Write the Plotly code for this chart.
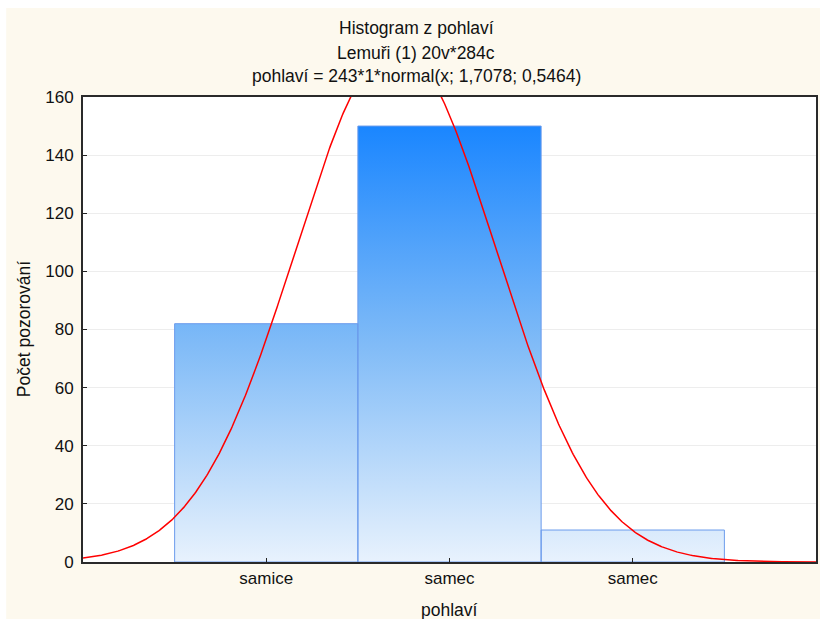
import numpy as np
import plotly.graph_objects as go

# data
categories = ["samice", "samec", "samec"]
class_pos = [1, 2, 3]
counts = [82, 150, 11]
n_total = 243
fit_mean = 1.7078
fit_sd = 0.5464
y_ticks = [0, 20, 40, 60, 80, 100, 120, 140, 160]

FONT = "Liberation Sans, Arial, sans-serif"
W, H = 820, 619
ML, MR, MT, MB = 83, 2, 97, 57
PH = H - MT - MB
PW = W - ML - MR


def py(pix):
    # pixel row -> paper y
    return (H - MB - pix) / PH


def px(pix):
    return (pix - ML) / PW


fig = go.Figure()

# bars as filled rectangles so they can carry a vertical gradient
bx, by = [], []
for p, c in zip(class_pos, counts):
    bx += [p - 0.5, p - 0.5, p + 0.5, p + 0.5, p - 0.5, None]
    by += [0, c, c, 0, 0, None]

fig.add_trace(go.Scatter(
    x=bx, y=by, mode="lines", fill="toself",
    line=dict(color="#6b9bec", width=1),
    fillgradient=dict(
        type="vertical", start=0, stop=max(counts),
        colorscale=[[0, "#e8f2fd"], [0.5, "#80bbf7"], [1, "#1a86ff"]],
    ),
    hoverinfo="skip", showlegend=False,
))

# fitted normal curve
xs = np.linspace(0, 4, 801)
ys = n_total * 1 * np.exp(-(xs - fit_mean) ** 2 / (2 * fit_sd ** 2)) / (fit_sd * np.sqrt(2 * np.pi))
fig.add_trace(go.Scatter(
    x=xs, y=ys, mode="lines", line=dict(color="#ff0000", width=1.5),
    hoverinfo="skip", showlegend=False,
))

# cream page background behind the plot box
fig.add_shape(type="rect", xref="paper", yref="paper",
              x0=px(6), x1=px(W + 10), y0=py(H + 10), y1=py(8),
              fillcolor="#fdf9ee", line_width=0, layer="below")
fig.add_shape(type="rect", xref="paper", yref="paper",
              x0=0, x1=1, y0=0, y1=1,
              fillcolor="white", line_width=0, layer="below")

titles = ["Histogram z pohlaví", "Lemuři (1) 20v*284c",
          "pohlaví = 243*1*normal(x; 1,7078; 0,5464)"]
for t, yy in zip(titles, [28, 53, 76]):
    fig.add_annotation(text=t, xref="paper", yref="paper", x=px(417), y=py(yy),
                       xanchor="center", yanchor="middle", showarrow=False,
                       font=dict(family=FONT, size=17.5, color="#111111"))

fig.add_annotation(text="pohlaví", xref="paper", yref="paper", x=0.5, y=py(610),
                   xanchor="center", yanchor="middle", showarrow=False,
                   font=dict(family=FONT, size=17.5, color="#111111"))
fig.add_annotation(text="Počet pozorování", xref="paper", yref="paper",
                   x=px(24), y=py(329), textangle=-90,
                   xanchor="center", yanchor="middle", showarrow=False,
                   font=dict(family=FONT, size=17.5, color="#111111"))

fig.update_layout(
    width=W, height=H,
    margin=dict(l=ML, r=MR, t=MT, b=MB),
    paper_bgcolor="white", plot_bgcolor="rgba(0,0,0,0)",
    font=dict(family=FONT, size=17, color="#111111"),
    xaxis=dict(
        range=[0, 4], tickvals=class_pos, ticktext=categories,
        ticks="inside", ticklen=4, tickcolor="#222222",
        showline=True, linecolor="#2a2a2a", linewidth=2, mirror=True,
        showgrid=False, zeroline=False,
    ),
    yaxis=dict(
        range=[0, 160], tickvals=y_ticks,
        ticks="inside", ticklen=4, tickcolor="#222222",
        showline=True, linecolor="#2a2a2a", linewidth=2, mirror=True,
        showgrid=True, gridcolor="#ededed", gridwidth=1, zeroline=False,
        ticklabelstandoff=4,
    ),
)

fig.write_html("out.html", config={"displayModeBar": False},
               post_script="document.body.style.margin='0';document.body.style.overflow='hidden';")
